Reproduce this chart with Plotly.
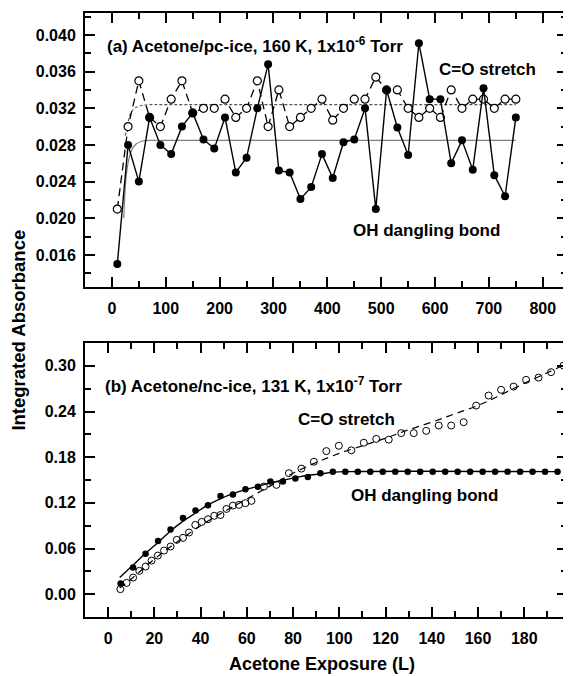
import plotly.graph_objects as go

# ---------------- Panel (a) data ----------------
a_x = [10, 30, 50, 70, 90, 110, 130, 150, 170, 190, 210, 230, 250, 270, 290, 310, 330, 350, 370,
       390, 410, 430, 450, 470, 490, 510, 530, 550, 570, 590, 610, 630, 650, 670, 690, 710, 730, 750]
a_oh = [0.0150, 0.0280, 0.0240, 0.0310, 0.0280, 0.0270, 0.0300, 0.0315, 0.0286, 0.0276, 0.0310,
        0.0250, 0.0266, 0.0320, 0.0368, 0.0252, 0.0250, 0.0221, 0.0234, 0.0270, 0.0244, 0.0283,
        0.0286, 0.0320, 0.0210, 0.0340, 0.0299, 0.0269, 0.0391, 0.0330, 0.0330, 0.0260, 0.0285,
        0.0253, 0.0342, 0.0247, 0.0224, 0.0310]
a_co = [0.0210, 0.0300, 0.0350, 0.0310, 0.0300, 0.0330, 0.0350, 0.0315, 0.0320, 0.0320, 0.0330,
        0.0310, 0.0320, 0.0350, 0.0300, 0.0340, 0.0300, 0.0310, 0.0320, 0.0330, 0.0307, 0.0320,
        0.0330, 0.0330, 0.0354, 0.0340, 0.0340, 0.0320, 0.0310, 0.0320, 0.0310, 0.0340, 0.0320,
        0.0330, 0.0330, 0.0320, 0.0330, 0.0330]
# fitted curves
a_fit_oh_x = [22, 25, 28, 32, 38, 45, 55, 70, 90, 750]
a_fit_oh_y = [0.0200, 0.0236, 0.0253, 0.0266, 0.0276, 0.0281, 0.0284, 0.0285, 0.0285, 0.0285]
a_fit_co_x = [25, 30, 36, 45, 55, 70, 90, 750]
a_fit_co_y = [0.0290, 0.0305, 0.0316, 0.0321, 0.0323, 0.0324, 0.0324, 0.0324]

# ---------------- Panel (b) data ----------------
b_oh_x = [5.4, 10.8, 16.2, 21.6, 27.0, 32.4, 37.8, 43.2, 48.6, 54.0, 59.4, 64.8, 70.2, 75.6, 81.0,
          86.4, 91.8, 97.2, 102.6, 108.0, 113.4, 118.8, 124.2, 129.6, 135.0, 140.4, 145.8, 151.2,
          156.6, 162.0, 167.4, 172.8, 178.2, 183.6, 189.0, 194.4]
b_oh = [0.014, 0.035, 0.053, 0.070, 0.085, 0.100, 0.110, 0.117, 0.129, 0.131, 0.138, 0.141, 0.148,
        0.148, 0.152, 0.154, 0.159, 0.161, 0.161, 0.161, 0.161, 0.161, 0.161, 0.161, 0.161, 0.161,
        0.161, 0.161, 0.161, 0.161, 0.161, 0.161, 0.161, 0.161, 0.161, 0.161]
b_co_x = [5.3, 8.0, 10.8, 13.5, 16.2, 18.8, 21.5, 24.2, 27.0, 29.7, 32.4, 35.0, 37.7, 40.5, 43.2,
          45.9, 48.6, 51.2, 54.0, 56.6, 59.4, 62.0, 67.4, 72.8, 78.2, 83.6, 89.0, 94.4, 99.8, 105.2,
          110.6, 116.0, 121.4, 126.8, 132.2, 137.6, 143.0, 148.4, 153.8, 159.2, 164.6, 170.0, 175.4,
          180.8, 186.2, 191.6, 197.0]
b_co = [0.0066, 0.0148, 0.0218, 0.0306, 0.0363, 0.0442, 0.0507, 0.0573, 0.0626, 0.0714, 0.0740,
        0.0810, 0.0910, 0.0950, 0.0985, 0.1030, 0.1040, 0.1120, 0.1164, 0.1173, 0.1196, 0.1226,
        0.1414, 0.1436, 0.1590, 0.1650, 0.1740, 0.1880, 0.1950, 0.1890, 0.1990, 0.2040, 0.2030,
        0.2116, 0.2116, 0.2146, 0.2216, 0.2216, 0.2260, 0.2478, 0.2610, 0.2685, 0.2728, 0.2816,
        0.2846, 0.2917, 0.3004]
b_fit_oh_x = [5, 10, 16, 22, 27, 32, 38, 43, 49, 54, 60, 65, 70, 76, 81, 86, 92, 97, 103, 195]
b_fit_oh_y = [0.022, 0.036, 0.053, 0.069, 0.083, 0.095, 0.107, 0.117, 0.126, 0.132, 0.138, 0.142,
              0.146, 0.150, 0.153, 0.156, 0.158, 0.160, 0.161, 0.161]
b_fit_co_x = [5, 10, 20, 30, 40, 50, 60, 70, 80, 90, 100, 110, 120, 130, 140, 150, 160, 170, 180,
              190, 197]
b_fit_co_y = [0.008, 0.020, 0.046, 0.069, 0.090, 0.108, 0.125, 0.142, 0.159, 0.173, 0.185, 0.195,
              0.205, 0.216, 0.226, 0.237, 0.248, 0.262, 0.277, 0.291, 0.301]

a_xticks = [0, 100, 200, 300, 400, 500, 600, 700, 800]
a_yticks = [0.016, 0.020, 0.024, 0.028, 0.032, 0.036, 0.040]
b_xticks = [0, 20, 40, 60, 80, 100, 120, 140, 160, 180]
b_yticks = [0.00, 0.06, 0.12, 0.18, 0.24, 0.30]

FONT = "Liberation Sans"

fig = go.Figure()

# panel (a)
fig.add_trace(go.Scatter(x=a_fit_oh_x, y=a_fit_oh_y, mode="lines", line=dict(color="#808080", width=1.2, shape="spline"),
                         xaxis="x", yaxis="y", showlegend=False))
fig.add_trace(go.Scatter(x=a_fit_co_x, y=a_fit_co_y, mode="lines", line=dict(color="#555555", width=1.1, dash="3px,2px", shape="spline"),
                         xaxis="x", yaxis="y", showlegend=False))
fig.add_trace(go.Scatter(x=a_x, y=a_co, mode="lines+markers",
                         line=dict(color="black", width=1.3, dash="8px,5px"),
                         marker=dict(symbol="circle", size=8, color="white", line=dict(color="black", width=1.2)),
                         xaxis="x", yaxis="y", showlegend=False))
fig.add_trace(go.Scatter(x=a_x, y=a_oh, mode="lines+markers",
                         line=dict(color="black", width=1.4),
                         marker=dict(symbol="circle", size=8, color="black"),
                         xaxis="x", yaxis="y", showlegend=False))

# panel (b)
fig.add_trace(go.Scatter(x=b_fit_co_x, y=b_fit_co_y, mode="lines", line=dict(color="black", width=1.2, dash="7px,5px", shape="spline"),
                         xaxis="x2", yaxis="y2", showlegend=False))
fig.add_trace(go.Scatter(x=b_fit_oh_x, y=b_fit_oh_y, mode="lines", line=dict(color="black", width=1.4, shape="spline"),
                         xaxis="x2", yaxis="y2", showlegend=False))
fig.add_trace(go.Scatter(x=b_co_x, y=b_co, mode="markers",
                         marker=dict(symbol="circle-open", size=7, color="black", line=dict(width=1)),
                         xaxis="x2", yaxis="y2", showlegend=False))
fig.add_trace(go.Scatter(x=b_oh_x, y=b_oh, mode="markers",
                         marker=dict(symbol="circle", size=6.5, color="black"),
                         xaxis="x2", yaxis="y2", showlegend=False))

tickfont = dict(family=FONT, size=16, color="black", weight="bold")
common = dict(showline=True, linecolor="black", linewidth=2, mirror="ticks", ticks="inside",
              ticklen=10, tickwidth=1.8, tickcolor="black", showgrid=False, zeroline=False,
              tickfont=tickfont)

# the page body has an 8px default margin, so the figure is 8px smaller on each axis
fig.update_layout(
    width=563, height=668,
    margin=dict(l=77, r=2, t=5, b=59),
    paper_bgcolor="white", plot_bgcolor="white",
    xaxis=dict(domain=[0, 1], anchor="y", range=[-50, 845], tickvals=a_xticks,
               minor=dict(dtick=50, tick0=0, ticklen=6, tickwidth=1.8, tickcolor="black", ticks="inside"),
               ticklabelstandoff=6, **common),
    yaxis=dict(domain=[0.5464, 1], anchor="x", range=[0.0125, 0.0424], tickvals=a_yticks, tickformat=".3f",
               minor=dict(dtick=0.002, tick0=0, ticklen=6, tickwidth=1.8, tickcolor="black", ticks="inside"),
               ticklabelstandoff=4, **common),
    xaxis2=dict(domain=[0, 1], anchor="y2", range=[-10, 198.5], tickvals=b_xticks,
                minor=dict(dtick=10, tick0=0, ticklen=6, tickwidth=1.8, tickcolor="black", ticks="inside"),
                ticklabelstandoff=6, **common),
    yaxis2=dict(domain=[0, 0.4536], anchor="x2", range=[-0.03, 0.33], tickvals=b_yticks, tickformat=".2f",
                minor=dict(dtick=0.03, tick0=0, ticklen=6, tickwidth=1.8, tickcolor="black", ticks="inside"),
                ticklabelstandoff=4, **common),
)

ann_font = dict(family=FONT, size=17, color="black", weight="bold")
annotations = [
    dict(x=-13, y=0.0389, xref="x", yref="y", text="(a) Acetone/pc-ice, 160 K, 1x10<sup>-6</sup> Torr"),
    dict(x=603, y=0.0362, xref="x", yref="y", text="C=O stretch"),
    dict(x=444, y=0.0187, xref="x", yref="y", text="OH dangling bond"),
    dict(x=-2.2, y=0.275, xref="x2", yref="y2", text="(b) Acetone/nc-ice, 131 K, 1x10<sup>-7</sup> Torr"),
    dict(x=81.4, y=0.229, xref="x2", yref="y2", text="C=O stretch"),
    dict(x=104.2, y=0.129, xref="x2", yref="y2", text="OH dangling bond"),
]
for a in annotations:
    fig.add_annotation(showarrow=False, xanchor="left", yanchor="middle", font=ann_font, **a)

fig.add_annotation(x=-0.138, y=0.475, xref="paper", yref="paper", text="Integrated Absorbance",
                   textangle=-90, showarrow=False, xanchor="center", yanchor="middle",
                   font=dict(family=FONT, size=18.5, color="black", weight="bold"))
fig.add_annotation(x=0.492, y=-0.078, xref="paper", yref="paper", text="Acetone Exposure (L)",
                   showarrow=False, xanchor="center", yanchor="middle",
                   font=dict(family=FONT, size=18, color="black", weight="bold"))

fig.write_html("out.html")
